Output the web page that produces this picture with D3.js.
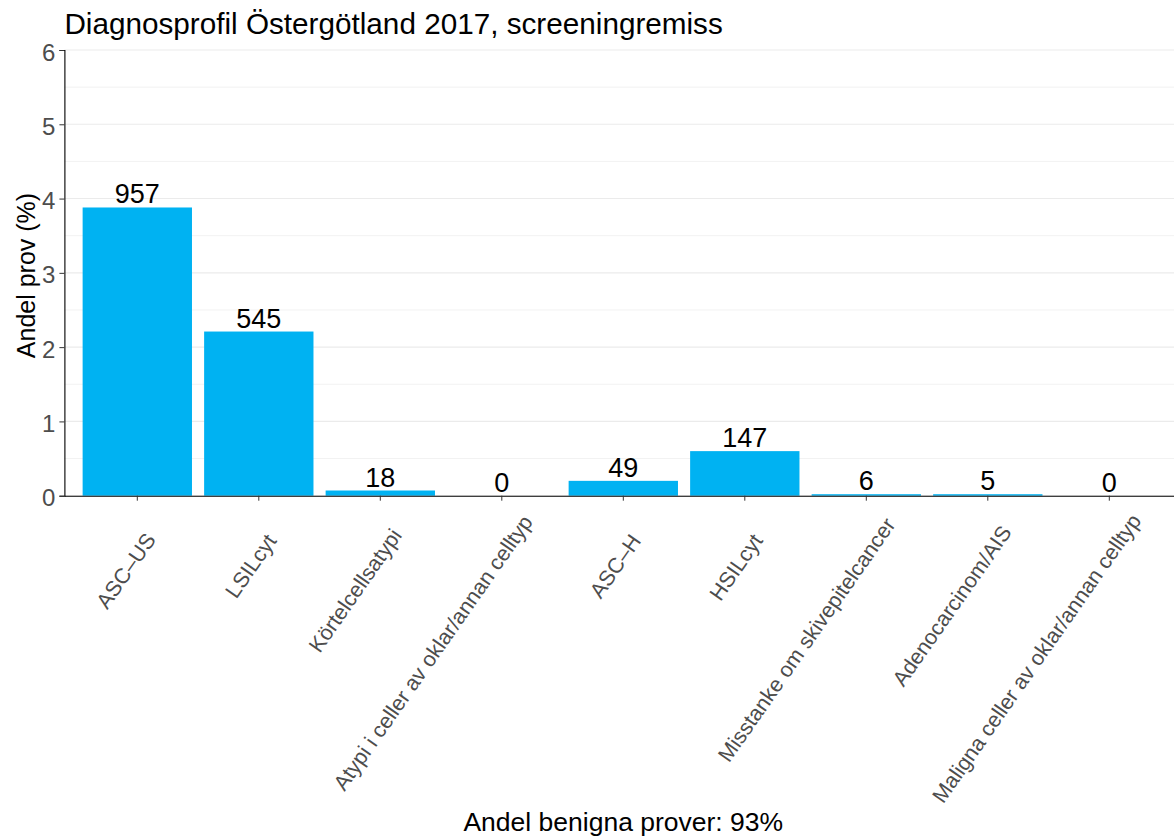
<!DOCTYPE html>
<html>
<head>
<meta charset="utf-8">
<script src="https://cdn.jsdelivr.net/npm/d3@7"></script>
<style>
  body { margin: 0; background: #fff; }
  svg { font-family: "Liberation Sans", Arial, sans-serif; }
</style>
</head>
<body>
<svg width="1174" height="838"></svg>
<script>
const svg = d3.select("svg");

const titleText = "Diagnosprofil Östergötland 2017, screeningremiss";
const yTitle = "Andel prov (%)";
const caption = "Andel benigna prover: 93%";

// categories, percent of samples, and counts shown above the bars
const categories = ["ASC\u2013US", "LSILcyt", "Körtelcellsatypi", "Atypi i celler av oklar/annan celltyp",
    "ASC\u2013H", "HSILcyt", "Misstanke om skivepitelcancer", "Adenocarcinom/AIS",
    "Maligna celler av oklar/annan celltyp"];
const percents = [3.88, 2.21, 0.07, 0, 0.20, 0.60, 0.02, 0.02, 0];
const counts = [957, 545, 18, 0, 49, 147, 6, 5, 0];
const yTicks = [0, 1, 2, 3, 4, 5, 6];

const data = categories.map((c, i) => ({ cat: c, pct: percents[i], n: counts[i] }));

const plotLeft = 64.4, plotTop = 50, plotBottom = 495.7, plotRight = 1182.2;

const xScale = d3.scaleBand()
    .domain(categories)
    .range([plotLeft, plotRight])
    .paddingInner(0.1)
    .paddingOuter(0.15);

const yScale = d3.scaleLinear()
    .domain([0, 6])
    .range([plotBottom, plotTop]);

// grid lines, minor then major
svg.append("g").selectAll("line")
    .data(d3.range(0.5, 6, 1))
    .enter().append("line")
    .attr("x1", plotLeft).attr("x2", 1174)
    .attr("y1", d => yScale(d)).attr("y2", d => yScale(d))
    .attr("stroke", "#f2f2f2").attr("stroke-width", 1);

svg.append("g").selectAll("line")
    .data(yTicks)
    .enter().append("line")
    .attr("x1", plotLeft).attr("x2", 1174)
    .attr("y1", d => yScale(d)).attr("y2", d => yScale(d))
    .attr("stroke", "#ebebeb").attr("stroke-width", 1.1);

// bars
svg.append("g").selectAll("rect").data(data)
    .enter().append("rect")
    .attr("x", d => xScale(d.cat))
    .attr("y", d => yScale(d.pct))
    .attr("width", xScale.bandwidth())
    .attr("height", d => plotBottom - yScale(d.pct))
    .attr("fill", "#00b2f2");

// count labels
svg.append("g").selectAll("text").data(data)
    .enter().append("text")
    .attr("x", d => xScale(d.cat) + xScale.bandwidth() / 2)
    .attr("y", d => yScale(d.pct) - 4)
    .attr("text-anchor", "middle")
    .attr("font-size", 27)
    .attr("fill", "#000")
    .text(d => d.n);

// y axis
const yAxis = svg.append("g")
    .attr("transform", `translate(${plotLeft},0)`)
    .call(d3.axisLeft(yScale).tickValues(yTicks).tickSize(5).tickPadding(4).tickFormat(d3.format("d")));
yAxis.select(".domain").attr("stroke", "#000").attr("stroke-width", 1.1);
yAxis.selectAll(".tick line").attr("stroke", "#333");
yAxis.selectAll(".tick text")
    .attr("font-size", 24).attr("fill", "#4d4d4d")
    .attr("font-family", "Liberation Sans, Arial, sans-serif")
    .attr("dy", "0.42em");

// x axis, labels slanted up to the right
const xAxis = svg.append("g")
    .attr("transform", `translate(0,${plotBottom})`)
    .call(d3.axisBottom(xScale).tickSize(5).tickSizeOuter(0));
xAxis.select(".domain").attr("stroke", "#000").attr("stroke-width", 1.1);
xAxis.selectAll(".tick line").attr("stroke", "#333");
xAxis.selectAll(".tick text")
    .attr("font-size", 21.5).attr("fill", "#4d4d4d")
    .attr("font-family", "Liberation Sans, Arial, sans-serif")
    .attr("text-anchor", "end")
    .attr("y", 0).attr("dy", null)
    .attr("x", function () { return 0.09 * this.getComputedTextLength(); })
    .attr("transform", "translate(14.9,50.5) rotate(-55)");

// title
svg.append("text")
    .attr("x", 64.4).attr("y", 33.5)
    .attr("font-size", 29.7)
    .attr("fill", "#000")
    .text(titleText);

// y axis title
svg.append("text")
    .attr("transform", "translate(35,275.5) rotate(-90)")
    .attr("text-anchor", "middle")
    .attr("font-size", 25)
    .attr("fill", "#000")
    .text(yTitle);

// caption under the x axis
svg.append("text")
    .attr("x", (plotLeft + plotRight) / 2).attr("y", 831)
    .attr("text-anchor", "middle")
    .attr("font-size", 26.5)
    .attr("fill", "#000")
    .text(caption);
</script>
</body>
</html>
